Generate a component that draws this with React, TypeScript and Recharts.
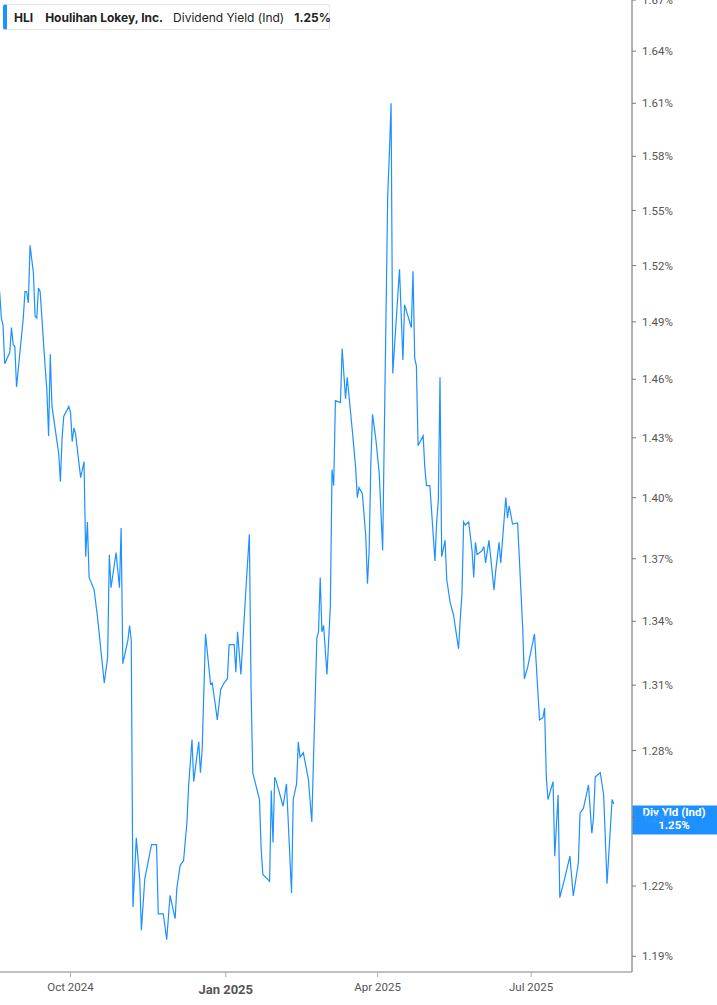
import React from "react"
import { Line, LineChart, ReferenceLine, XAxis, YAxis } from "recharts"

// trading-day vertices
const dates = [
    "2024-08-20", "2024-08-21", "2024-08-22", "2024-08-23", "2024-08-26", "2024-08-27", "2024-08-28", "2024-08-29", "2024-08-30",
    "2024-09-03", "2024-09-04", "2024-09-05", "2024-09-06", "2024-09-07", "2024-09-09", "2024-09-10", "2024-09-11", "2024-09-12",
    "2024-09-13", "2024-09-15", "2024-09-16", "2024-09-17", "2024-09-18", "2024-09-19", "2024-09-20", "2024-09-24", "2024-09-25",
    "2024-09-26", "2024-09-27", "2024-09-30", "2024-10-01", "2024-10-02", "2024-10-03", "2024-10-04", "2024-10-07", "2024-10-09",
    "2024-10-10", "2024-10-11", "2024-10-12", "2024-10-15", "2024-10-17", "2024-10-21", "2024-10-23", "2024-10-24", "2024-10-25",
    "2024-10-28", "2024-10-30", "2024-10-31", "2024-11-01", "2024-11-04", "2024-11-05", "2024-11-06", "2024-11-07", "2024-11-09",
    "2024-11-11", "2024-11-12", "2024-11-14", "2024-11-18", "2024-11-21", "2024-11-22", "2024-11-25", "2024-11-27", "2024-11-29",
    "2024-12-02", "2024-12-03", "2024-12-05", "2024-12-07", "2024-12-09", "2024-12-10", "2024-12-12", "2024-12-13", "2024-12-16",
    "2024-12-17", "2024-12-18", "2024-12-20", "2024-12-23", "2024-12-24", "2024-12-26", "2024-12-27", "2024-12-29", "2024-12-31",
    "2025-01-02", "2025-01-03", "2025-01-06", "2025-01-07", "2025-01-08", "2025-01-10", "2025-01-13", "2025-01-15", "2025-01-16",
    "2025-01-17", "2025-01-21", "2025-01-22", "2025-01-23", "2025-01-27", "2025-01-28", "2025-01-29", "2025-01-30", "2025-01-31",
    "2025-02-04", "2025-02-06", "2025-02-09", "2025-02-10", "2025-02-12", "2025-02-13", "2025-02-14", "2025-02-16", "2025-02-19",
    "2025-02-21", "2025-02-24", "2025-02-25", "2025-02-26", "2025-02-27", "2025-02-28", "2025-03-02", "2025-03-04", "2025-03-05",
    "2025-03-06", "2025-03-07", "2025-03-10", "2025-03-11", "2025-03-13", "2025-03-14", "2025-03-17", "2025-03-19", "2025-03-20",
    "2025-03-21", "2025-03-23", "2025-03-25", "2025-03-26", "2025-03-27", "2025-03-28", "2025-03-29", "2025-03-31", "2025-04-02",
    "2025-04-04", "2025-04-07", "2025-04-08", "2025-04-09", "2025-04-10", "2025-04-14", "2025-04-16", "2025-04-17", "2025-04-21",
    "2025-04-22", "2025-04-23", "2025-04-24", "2025-04-25", "2025-04-28", "2025-04-29", "2025-04-30", "2025-05-02", "2025-05-05",
    "2025-05-06", "2025-05-07", "2025-05-08", "2025-05-09", "2025-05-11", "2025-05-12", "2025-05-14", "2025-05-16", "2025-05-19",
    "2025-05-20", "2025-05-21", "2025-05-22", "2025-05-23", "2025-05-25", "2025-05-27", "2025-05-28", "2025-05-29", "2025-05-30",
    "2025-06-02", "2025-06-03", "2025-06-04", "2025-06-06", "2025-06-09", "2025-06-10", "2025-06-12", "2025-06-13", "2025-06-16",
    "2025-06-17", "2025-06-18", "2025-06-20", "2025-06-23", "2025-06-26", "2025-06-27", "2025-06-29", "2025-07-03", "2025-07-06",
    "2025-07-08", "2025-07-09", "2025-07-10", "2025-07-11", "2025-07-14", "2025-07-15", "2025-07-17", "2025-07-18", "2025-07-21",
    "2025-07-24", "2025-07-26", "2025-07-29", "2025-07-30", "2025-08-01", "2025-08-04", "2025-08-06", "2025-08-07", "2025-08-08",
    "2025-08-11", "2025-08-13", "2025-08-15", "2025-08-18", "2025-08-19",
]

// dividend yield, %
const yields = [
    1.506, 1.492, 1.488, 1.468, 1.474, 1.487, 1.478, 1.477, 1.456,
    1.492, 1.506, 1.506, 1.5, 1.531, 1.516, 1.493, 1.492, 1.508,
    1.506, 1.479, 1.466, 1.454, 1.431, 1.473, 1.446, 1.422, 1.408,
    1.43, 1.441, 1.446, 1.443, 1.428, 1.435, 1.432, 1.41, 1.418,
    1.371, 1.388, 1.361, 1.355, 1.342, 1.311, 1.323, 1.372, 1.356,
    1.373, 1.356, 1.385, 1.32, 1.331, 1.338, 1.331, 1.211, 1.241,
    1.223, 1.201, 1.223, 1.238, 1.238, 1.208, 1.208, 1.197, 1.216,
    1.206, 1.219, 1.229, 1.231, 1.248, 1.264, 1.285, 1.266, 1.284,
    1.27, 1.28, 1.334, 1.3105, 1.311, 1.3, 1.294, 1.308, 1.311,
    1.313, 1.329, 1.329, 1.316, 1.335, 1.315, 1.356, 1.382, 1.309,
    1.27, 1.258, 1.236, 1.225, 1.222, 1.262, 1.239, 1.268, 1.266,
    1.255, 1.265, 1.217, 1.258, 1.265, 1.284, 1.277, 1.279, 1.267,
    1.248, 1.332, 1.335, 1.361, 1.335, 1.338, 1.315, 1.347, 1.414,
    1.406, 1.449, 1.448, 1.476, 1.45, 1.461, 1.434, 1.415, 1.4,
    1.405, 1.402, 1.381, 1.358, 1.374, 1.417, 1.442, 1.429, 1.412,
    1.374, 1.558, 1.582, 1.61, 1.463, 1.518, 1.47, 1.499, 1.487,
    1.517, 1.471, 1.467, 1.426, 1.431, 1.415, 1.406, 1.406, 1.369,
    1.3875, 1.399, 1.461, 1.371, 1.379, 1.36, 1.349, 1.343, 1.327,
    1.341, 1.353, 1.388, 1.3865, 1.388, 1.374, 1.361, 1.378, 1.372,
    1.374, 1.376, 1.368, 1.379, 1.355, 1.364, 1.378, 1.368, 1.4,
    1.39, 1.396, 1.387, 1.3875, 1.337, 1.313, 1.3185, 1.334, 1.294,
    1.295, 1.2995, 1.268, 1.258, 1.266, 1.233, 1.26, 1.215, 1.2235,
    1.233, 1.2157, 1.23, 1.252, 1.254, 1.2645, 1.243, 1.25, 1.268,
    1.27, 1.26, 1.221, 1.258, 1.256, 1.25,
]

const yTicks = [1.19, 1.22, 1.25, 1.28, 1.31, 1.34, 1.37, 1.4, 1.43, 1.46, 1.49, 1.52, 1.55, 1.58, 1.61, 1.64, 1.67]
const xTickDates = ["2024-10-01", "2025-01-01", "2025-04-01", "2025-07-01"]

const toTime = (s: string) => Date.parse(s + "T00:00:00Z")
const DAY = 86400000
const ORIGIN = toTime("2024-10-01")

const data = dates.map((d, i) => ({ t: toTime(d), value: yields[i] }))
const xTicks = xTickDates.map(toTime)
const lastValue = yields[yields.length - 1]

const MONTHS = ["Jan", "Feb", "Mar", "Apr", "May", "Jun", "Jul", "Aug", "Sep", "Oct", "Nov", "Dec"]

const BLUE = "#1e90ff"

function MonthTick(props: any) {
    const { x, y, payload } = props
    const d = new Date(payload.value)
    const isYear = d.getUTCMonth() === 0
    return (
        <text
            x={x}
            y={y}
            dy={isYear ? 15 : 12}
            textAnchor="middle"
            fill="#555"
            fontSize={isYear ? 13 : 11.5}
            fontWeight={isYear ? 700 : 400}
        >
            {`${MONTHS[d.getUTCMonth()]} ${d.getUTCFullYear()}`}
        </text>
    )
}

// tick label hidden under the badge is drawn faintly, like the original
function YieldTick(props: any) {
    const { x, y, payload } = props
    const underBadge = Math.abs(payload.value - lastValue) < 0.015
    return (
        <text x={x} y={y} dy="0.355em" textAnchor="start" fill={underBadge ? "#3a9bff" : "#555"} fontSize={11.5}>
            {`${Number(payload.value).toFixed(2)}%`}
        </text>
    )
}

function YieldBadge(props: any) {
    const { viewBox } = props
    const left = viewBox.x + viewBox.width
    return (
        <g>
            <rect x={left} y={viewBox.y - 12} width={85} height={29} fill={BLUE} />
            <text x={left + 42} y={viewBox.y - 1} textAnchor="middle" fill="#fff" fontSize={11.5} fontWeight={700}>
                Div Yld (Ind)
            </text>
            <text x={left + 42} y={viewBox.y + 12} textAnchor="middle" fill="#fff" fontSize={11.5} fontWeight={700}>
                {`${lastValue.toFixed(2)}%`}
            </text>
        </g>
    )
}

export default function App() {
    return (
        <div style={{ position: "absolute", left: 0, top: 0, width: 717, height: 1005, background: "#fff", fontFamily: "Roboto, Inter, sans-serif" }}>
            <LineChart width={717} height={1005} data={data} margin={{ top: 0, right: 0, bottom: 0, left: 0 }}>
                <XAxis
                    dataKey="t"
                    type="number"
                    domain={[ORIGIN - 41.8 * DAY, ORIGIN + 332.8 * DAY]}
                    allowDataOverflow
                    ticks={xTicks}
                    tick={<MonthTick />}
                    tickSize={5}
                    height={33}
                    axisLine={{ stroke: "#aaa", strokeWidth: 1.5 }}
                    tickLine={{ stroke: "#aaa" }}
                />
                <YAxis
                    orientation="right"
                    scale="log"
                    domain={[1.1834, 1.67]}
                    allowDataOverflow
                    ticks={yTicks}
                    interval={0}
                    width={85}
                    tickSize={4}
                    tickMargin={6}
                    tick={<YieldTick />}
                    axisLine={{ stroke: "#999", strokeWidth: 1.5 }}
                    tickLine={{ stroke: "#777" }}
                />
                <Line
                    type="linear"
                    dataKey="value"
                    stroke={BLUE}
                    strokeWidth={1.2}
                    dot={false}
                    isAnimationActive={false}
                />
                <ReferenceLine y={lastValue} stroke="none" label={<YieldBadge />} />
            </LineChart>
            <div
                style={{
                    position: "absolute",
                    left: 3,
                    top: 4,
                    width: 327,
                    height: 26,
                    boxSizing: "border-box",
                    border: "1px solid #e4e4e4",
                    borderLeft: `4px solid ${BLUE}`,
                    borderRadius: 3,
                    background: "#fff",
                    display: "flex",
                    alignItems: "center",
                    fontFamily: "Inter, sans-serif",
                    fontSize: 12,
                    color: "#222",
                    whiteSpace: "nowrap",
                }}
            >
                <span style={{ fontWeight: 700, marginLeft: 7 }}>HLI</span>
                <span style={{ fontWeight: 700, marginLeft: 12 }}>Houlihan Lokey, Inc.</span>
                <span style={{ marginLeft: 10 }}>Dividend Yield (Ind)</span>
                <span style={{ fontWeight: 700, marginLeft: 10 }}>1.25%</span>
            </div>
        </div>
    )
}
